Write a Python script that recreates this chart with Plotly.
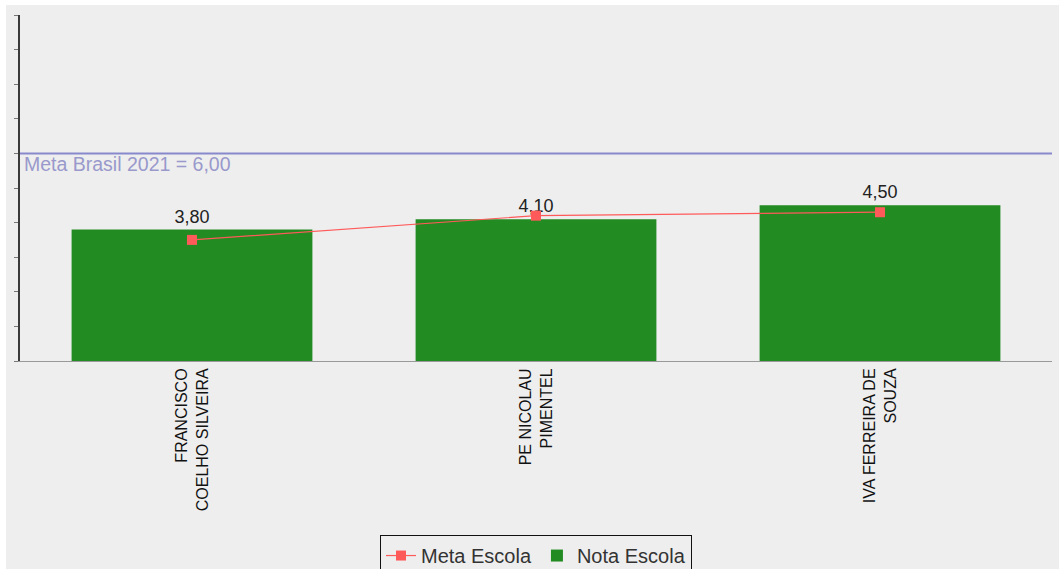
import plotly.graph_objects as go

# --- data ---
escolas = ["FRANCISCO<br>COELHO SILVEIRA", "PE NICOLAU<br>PIMENTEL", "IVA FERREIRA DE<br>SOUZA"]
nota_escola = [3.80, 4.10, 4.50]
meta_escola = [3.5, 4.2, 4.3]
meta_brasil = 6.0
meta_brasil_label = "Meta Brasil 2021 = 6,00"

FONT = "Liberation Sans, Arial, sans-serif"
BG = "#eeeeee"

fig = go.Figure()

# bars with value labels above
fig.add_trace(go.Bar(
    x=escolas, y=nota_escola, name="Nota Escola",
    marker=dict(color="#228b22", line=dict(width=0)),
    width=0.7,
    text=nota_escola, texttemplate="%{y:.2f}", textposition="outside",
    textfont=dict(family=FONT, size=18, color="#222222"),
    cliponaxis=False, legendrank=2,
))

# school target line
fig.add_trace(go.Scatter(
    x=escolas, y=meta_escola, name="Meta Escola", mode="lines+markers",
    line=dict(color="#ff5a5a", width=1.2),
    marker=dict(symbol="square", size=10, color="#ff5a5a"),
    legendrank=1,
))

# national target line + label
fig.add_shape(type="line", xref="paper", x0=0, x1=1, y0=meta_brasil, y1=meta_brasil,
              line=dict(color="#8888cc", width=2))
fig.add_annotation(xref="paper", x=0, y=meta_brasil, text=meta_brasil_label,
                   showarrow=False, xanchor="left", yanchor="top", xshift=2, yshift=2,
                   font=dict(family=FONT, size=19.5, color="#9999cc"))

# figure is taller than the window: the legend box runs off the bottom edge
fig.update_layout(
    width=1053, height=584,
    margin=dict(l=14, r=7, t=10, b=228),
    paper_bgcolor=BG, plot_bgcolor=BG,
    separators=",.",
    font=dict(family=FONT, color="#222222"),
    showlegend=True,
    legend=dict(orientation="h", x=0.5, xanchor="center", y=-0.503, yanchor="top",
                bgcolor=BG, bordercolor="#111111", borderwidth=1,
                font=dict(family=FONT, size=20, color="#333333")),
    bargap=0.3,
)

fig.update_xaxes(showline=True, linecolor="#999999", linewidth=1, showgrid=False,
                 ticks="", tickangle=-90, automargin=False,
                 tickfont=dict(family=FONT, size=16, color="#111111"))
fig.update_yaxes(range=[0, 10], dtick=1, showline=True, linecolor="#3a3a3a", linewidth=2,
                 ticks="outside", ticklen=4, tickcolor="#777777", showticklabels=False,
                 showgrid=False, zeroline=False)

# grey panel sits 6px from the left and 5px from the top of a white page
fig.write_html("out.html",
               post_script="document.body.style.margin='5px 0 0 6px';"
                           "document.body.style.overflow='hidden';")
